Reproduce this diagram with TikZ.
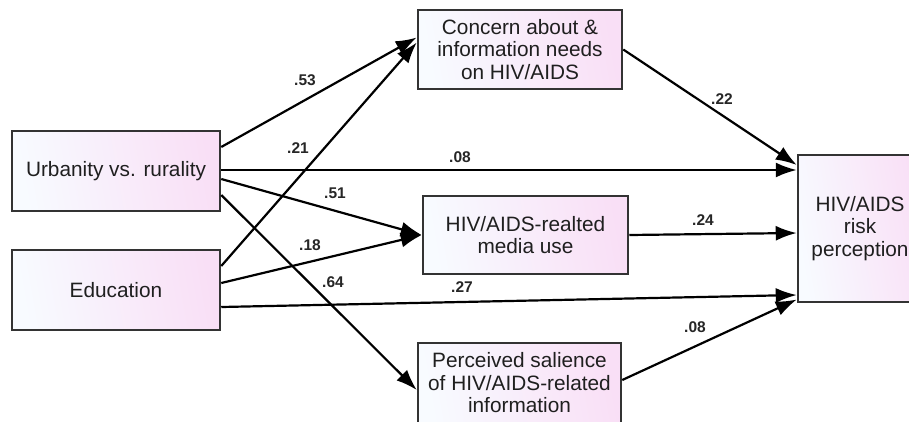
\documentclass[tikz,border=0pt]{standalone}
\usepackage{fontspec}
\setmainfont{Liberation Sans}
\usetikzlibrary{arrows.meta,calc}
\definecolor{boxL}{HTML}{F8FBFF}
\definecolor{boxR}{HTML}{F9DFF6}
\definecolor{boxline}{HTML}{333333}
\begin{document}
\begin{tikzpicture}[x=1pt,y=-1pt,
  varbox/.style={draw=boxline,line width=2.5pt,rectangle,inner sep=0pt,
    left color=boxL,right color=boxR,shading angle=100,
    align=center,font=\fontsize{20.8}{22.5}\selectfont,text=black!88},
  path/.style={draw=black,line width=2.2pt,-{Latex[length=21pt,width=15pt]}},
  lbl/.style={font=\fontsize{15.5}{17}\selectfont\bfseries,text=black!85,inner sep=0pt}]
\useasboundingbox (0,0) rectangle (909,421);
\clip (0,0) rectangle (909,421);
\fill[white] (0,0) rectangle (909,421);
% boxes
\node[varbox,minimum width=208pt,minimum height=80pt] (urb) at (116,171) {Urbanity vs. rurality};
\node[varbox,minimum width=208pt,minimum height=80pt] (edu) at (116,290) {Education};
\node[varbox,minimum width=204pt,minimum height=79pt] (con) at (520,49.5) {Concern about \&\\information needs\\on HIV/AIDS};
\node[varbox,minimum width=205pt,minimum height=78pt] (med) at (525.5,235) {HIV/AIDS-realted\\media use};
\node[varbox,minimum width=203pt,minimum height=80pt] (per) at (519.5,383) {Perceived salience\\of HIV/AIDS-related\\information};
\node[varbox,minimum width=124pt,minimum height=147pt] (hiv) at (860,228.5) {HIV/AIDS\\risk\\perception};
% paths
\draw[path] ($(urb.east)+(0,-24)$) -- ($(con.west)+(0,-12)$);
\draw[path] ($(edu.east)+(0,-24)$) -- ($(con.west)+(0,-7)$);
\draw[path] ($(urb.east)+(0,-1)$) -- ($(hiv.west)+(0,-58.5)$);
\draw[path] ($(urb.east)+(0,8)$) -- (med.west);
\draw[path] ($(urb.east)+(0,24)$) -- ($(per.west)+(0,7)$);
\draw[path] ($(edu.east)+(0,-7)$) -- (med.west);
\draw[path] ($(edu.east)+(0,17)$) -- ($(hiv.west)+(0,66.5)$);
\draw[path] (con.east) -- ($(hiv.west)+(0,-63.5)$);
\draw[path] (med.east) -- ($(hiv.west)+(0,4.5)$);
\draw[path] ($(per.east)+(0,-3)$) -- ($(hiv.west)+(0,71)$);
% coefficients
\node[lbl] (l1) at (305,80) {.53};
\node[lbl] (l2) at (298,148) {.21};
\node[lbl] (l3) at (460,157) {.08};
\node[lbl] (l4) at (335,193) {.51};
\node[lbl] (l5) at (310,245) {.18};
\node[lbl] (l6) at (333,282) {.64};
\node[lbl] (l7) at (462,287) {.27};
\node[lbl] (l8) at (722,99) {.22};
\node[lbl] (l9) at (703,220) {.24};
\node[lbl] (l10) at (695,327) {.08};
\end{tikzpicture}
\end{document}
